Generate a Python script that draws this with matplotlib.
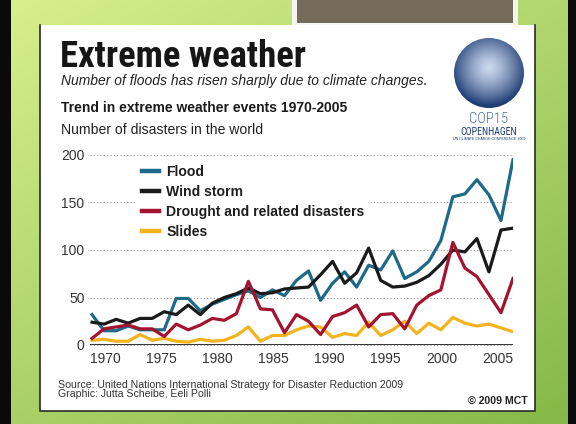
import numpy as np
import matplotlib
matplotlib.use("Agg")
import matplotlib.pyplot as plt
from matplotlib.patches import Rectangle, Circle
from matplotlib.lines import Line2D

# ---------------- data ----------------
years = list(range(1970, 2006))
flood = [32, 15, 15, 20, 16, 16, 16, 49, 49, 36,
         43, 48, 53, 57, 50, 58, 52, 68, 78, 47,
         65, 77, 61, 84, 79, 99, 70, 77, 88, 110,
         156, 159, 174, 158, 131, 195]
wind = [24, 22, 27, 23, 28, 28, 35, 32, 42, 32,
        44, 50, 54, 60, 54, 55, 59, 60, 61, 74,
        88, 65, 76, 102, 68, 61, 62, 66, 73, 85,
        100, 98, 112, 77, 121, 123]
drought = [7, 17, 19, 21, 17, 17, 9, 22, 16, 21,
           28, 26, 33, 67, 38, 37, 13, 32, 25, 11,
           30, 34, 42, 19, 32, 33, 17, 42, 52, 58,
           108, 81, 72, 53, 34, 70]
slides = [5, 6, 4, 4, 11, 5, 7, 4, 3, 6,
          4, 5, 10, 19, 4, 10, 10, 16, 20, 19,
          8, 12, 10, 24, 10, 16, 25, 12, 23, 16,
          29, 23, 20, 22, 18, 14]
series_names = ["Flood", "Wind storm", "Drought and related disasters", "Slides"]
y_ticks = [0, 50, 100, 150, 200]
x_tick_years = [1970, 1975, 1980, 1985, 1990, 1995, 2000, 2005]

# ---------------- style ----------------
C_FLOOD = "#1d6a88"
C_WIND = "#1a1a1a"
C_DROUGHT = "#a3132f"
C_SLIDES = "#f2b31c"
SANS = ["Liberation Sans", "DejaVu Sans"]
COND = ["Roboto Condensed", "Barlow Condensed", "DejaVu Sans"]
plt.rcParams["font.family"] = SANS

W, H = 576, 424
fig = plt.figure(figsize=(W / 100, H / 100), dpi=100)

# background (slide) in pixel coordinates
bg = fig.add_axes([0, 0, 1, 1])
bg.set_xlim(0, W)
bg.set_ylim(H, 0)
bg.axis("off")
yy, xx = np.mgrid[0:H, 0:W]
t = 0.55 * yy / H + 0.45 * xx / W
c0 = np.array([0.84, 0.94, 0.55])
c1 = np.array([0.52, 0.72, 0.28])
img = c0[None, None, :] * (1 - t[..., None]) + c1[None, None, :] * t[..., None]
bg.imshow(img, extent=(0, W, H, 0), aspect="auto", zorder=0, interpolation="bilinear")
bg.add_patch(Rectangle((0, 0), 11, H, fc="#0a0a0a", ec="none", zorder=1))
bg.add_patch(Rectangle((568, 0), 8, H, fc="#0a0a0a", ec="none", zorder=1))
# top grey tab
bg.add_patch(Rectangle((292, 0), 226, 26, fc="#f4f4f0", ec="none", zorder=1))
bg.add_patch(Rectangle((297, 0), 216, 23, fc="#766a5b", ec="none", zorder=2))
# white panel
bg.add_patch(Rectangle((40, 25), 495, 386, fc="white", ec="none", zorder=1))
bg.plot([40, 40, 535, 535], [25, 411, 411, 25], color="#2a2a2a", lw=1.2, zorder=2,
        solid_joinstyle="miter")

# texts
bg.text(60, 67, "Extreme weather", fontsize=26.5, fontweight="black", family=COND,
        color="#161616", va="baseline", ha="left", zorder=3)
bg.text(61, 84.5, "Number of floods has risen sharply due to climate changes.",
        fontsize=10, style="italic", color="#222222", va="baseline", ha="left", zorder=3)
bg.text(61, 112, "Trend in extreme weather events 1970-2005", fontsize=10,
        fontweight="bold", color="#1a1a1a", va="baseline", ha="left", zorder=3)
bg.text(61, 134, "Number of disasters in the world", fontsize=10.1,
        color="#222222", va="baseline", ha="left", zorder=3)
bg.text(58, 388, "Source: United Nations International Strategy for Disaster Reduction 2009",
        fontsize=7.6, color="#333333", va="baseline", ha="left", zorder=3)
bg.text(58, 397, "Graphic: Jutta Scheibe, Eeli Polli", fontsize=7.6, color="#333333",
        va="baseline", ha="left", zorder=3)
bg.text(528, 404, "\u00a9 2009 MCT", fontsize=7.6, fontweight="bold", color="#222222",
        va="baseline", ha="right", zorder=3)

# COP15 logo
cx, cy, r = 489, 73, 35
gy, gx = np.mgrid[-1:1:200j, -1:1:200j]
rr = np.sqrt(gx ** 2 + (gy + 0.15) ** 2)
inner = np.array([0.80, 0.85, 0.93])
outer = np.array([0.12, 0.24, 0.46])
s = np.clip(rr / 1.1, 0, 1)[..., None] ** 1.3
logo = inner * (1 - s) + outer * s
im = bg.imshow(logo, extent=(cx - r, cx + r, cy + r, cy - r), zorder=3, interpolation="bilinear")
clip = Circle((cx, cy), r, transform=bg.transData)
im.set_clip_path(clip)
bg.text(cx, 123, "COP15", fontsize=10.5, color="#4a6fa8", ha="center", va="baseline",
        family=COND, fontweight="light", zorder=3)
bg.text(cx, 135, "COPENHAGEN", fontsize=7.1, color="#1c3c72", ha="center", va="baseline",
        family=COND, fontweight="normal", zorder=3)
bg.text(cx, 140, "UN CLIMATE CHANGE CONFERENCE 2009", fontsize=2.6, color="#1c3c72",
        ha="center", va="baseline", zorder=3)

# ---------------- chart ----------------
ax_l, ax_r, ax_b, ax_t = 90, 513, 345, 155
ax = fig.add_axes([ax_l / W, 1 - ax_b / H, (ax_r - ax_l) / W, (ax_b - ax_t) / H])
ax.patch.set_alpha(0)
ax.set_xlim(1969.83, 2005)
ax.set_ylim(0, 200)
for sp in ax.spines.values():
    sp.set_visible(False)
ax.set_xticks([])
ax.set_yticks(y_ticks)
ax.tick_params(axis="y", length=0, pad=4, labelsize=10, labelcolor="#333333")
ax.grid(axis="y", linestyle=(0, (1, 2)), color="#9a9a9a", linewidth=0.8)
for gl in ax.get_ygridlines():
    gl.set_clip_on(False)
ax.axhline(0, color="#222222", lw=1.3, zorder=3)

lw = 2.3
ax.plot(years, slides, color=C_SLIDES, lw=lw, zorder=4)
ax.plot(years, flood, color=C_FLOOD, lw=lw, zorder=5)
ax.plot(years, wind, color=C_WIND, lw=lw, zorder=6)
ax.plot(years, drought, color=C_DROUGHT, lw=lw, zorder=7)

handles = [Line2D([], [], color=c, lw=3.2) for c in (C_FLOOD, C_WIND, C_DROUGHT, C_SLIDES)]
leg = ax.legend(handles, series_names, loc="upper left",
                bbox_to_anchor=(136 / W, 1 - 158.5 / H), bbox_transform=fig.transFigure,
                frameon=True, facecolor="white", edgecolor="none", framealpha=1,
                fancybox=False, borderpad=0.45, handlelength=1.2, handletextpad=0.5,
                labelspacing=0.43, borderaxespad=0,
                prop={"weight": "bold", "size": 10.1, "family": SANS})
for txt in leg.get_texts():
    txt.set_color("#1e1e1e")

# year labels
ax_lbl = ax.twiny()
ax_lbl.set_xlim(1968.66, 2006.34)
ax_lbl.patch.set_visible(False)
for sp in ax_lbl.spines.values():
    sp.set_visible(False)
ax_lbl.xaxis.tick_bottom()
ax_lbl.set_xticks(x_tick_years)
ax_lbl.tick_params(axis="x", length=0, pad=5, labelsize=10, labelcolor="#333333")

fig.savefig("out.png", dpi=100)
